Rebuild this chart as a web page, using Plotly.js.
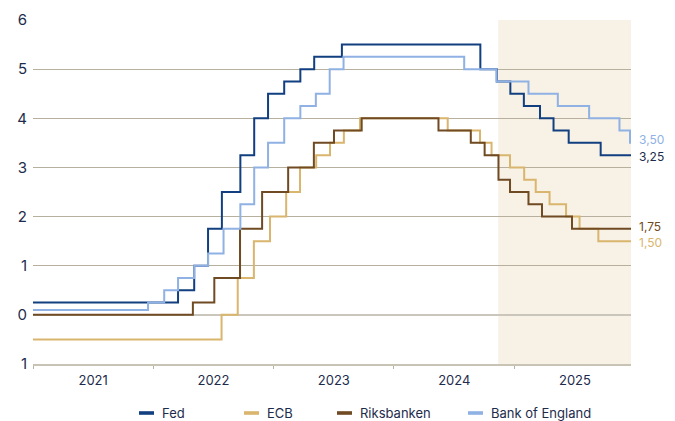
<!DOCTYPE html>
<html>
<head>
<meta charset="utf-8">
<script src="https://cdn.plot.ly/plotly-3.0.1.min.js"></script>
<style>
  html, body { margin: 0; padding: 0; background: #ffffff; }
  #chart { width: 675px; height: 421px; }
</style>
</head>
<body>
<div id="chart"></div>
<script>
// Policy rates, step changes (date of change, new rate in %)
const seriesNames = ['Fed', 'ECB', 'Riksbanken', 'Bank of England'];
const seriesColors = ['#123f80', '#d9b56e', '#6f4a22', '#8fb1e4'];
const labelColors = ['#1d2c4c', '#d9b56e', '#6f4a22', '#8fb1e4'];

const endDate = '2025-12-20';
const forecastStart = '2024-11-12';

const fedDates = ['2021-01-01', '2022-03-17', '2022-05-05', '2022-06-16', '2022-07-28', '2022-09-22',
  '2022-11-03', '2022-12-15', '2023-02-02', '2023-03-23', '2023-05-04', '2023-07-27',
  '2024-09-19', '2024-11-08', '2024-12-19', '2025-01-29', '2025-03-19', '2025-04-29',
  '2025-06-14', '2025-09-19', endDate];
const fedRates = [0.25, 0.50, 1.00, 1.75, 2.50, 3.25, 4.00, 4.50, 4.75, 5.00, 5.25, 5.50,
  5.00, 4.75, 4.50, 4.25, 4.00, 3.75, 3.50, 3.25, 3.25];

const ecbDates = ['2021-01-01', '2022-07-27', '2022-09-14', '2022-11-02', '2022-12-21', '2023-02-08',
  '2023-03-22', '2023-05-10', '2023-06-21', '2023-08-02', '2023-09-20', '2024-06-12',
  '2024-09-18', '2024-10-23', '2024-12-18', '2025-01-30', '2025-03-06', '2025-04-17',
  '2025-06-06', '2025-07-17', '2025-09-12', endDate];
const ecbRates = [-0.50, 0.00, 0.75, 1.50, 2.00, 2.50, 3.00, 3.25, 3.50, 3.75, 4.00, 3.75,
  3.50, 3.25, 3.00, 2.75, 2.50, 2.25, 2.00, 1.75, 1.50, 1.50];

const riksDates = ['2021-01-01', '2022-05-01', '2022-07-05', '2022-09-21', '2022-11-27', '2023-02-14',
  '2023-05-03', '2023-07-03', '2023-09-25', '2024-05-15', '2024-08-21', '2024-10-02',
  '2024-11-13', '2024-12-18', '2025-02-12', '2025-03-25', '2025-06-24', endDate];
const riksRates = [0.00, 0.25, 0.75, 1.75, 2.50, 3.00, 3.50, 3.75, 4.00, 3.75, 3.50, 3.25,
  2.75, 2.50, 2.25, 2.00, 1.75, 1.75];

const boeDates = ['2021-01-01', '2021-12-16', '2022-02-03', '2022-03-17', '2022-05-05', '2022-06-16',
  '2022-08-02', '2022-09-22', '2022-11-03', '2022-12-15', '2023-02-02', '2023-03-23',
  '2023-05-09', '2023-06-20', '2023-08-01', '2024-08-01', '2024-11-07', '2025-02-12',
  '2025-05-12', '2025-08-15', '2025-11-15', '2025-12-17', endDate];
const boeRates = [0.10, 0.25, 0.50, 0.75, 1.00, 1.25, 1.75, 2.25, 3.00, 3.50, 4.00, 4.25,
  4.50, 5.00, 5.25, 5.00, 4.75, 4.50, 4.25, 4.00, 3.75, 3.50, 3.50];

const yTickVals = [-1, 0, 1, 2, 3, 4, 5, 6];
const yTickText = ['1', '0', '1', '2', '3', '4', '5', '6'];

const allDates = [fedDates, ecbDates, riksDates, boeDates];
const allRates = [fedRates, ecbRates, riksRates, boeRates];

const FONT = 'Inter, Roboto, "DejaVu Sans", sans-serif';
const TEXT = '#1d2c4c';

const traces = seriesNames.map((name, i) => ({
  type: 'scatter',
  mode: 'lines',
  name: name,
  x: allDates[i],
  y: allRates[i],
  line: { shape: 'hv', color: seriesColors[i], width: 2 },
  hoverinfo: 'skip',
  showlegend: false
}));

// end-of-line value labels; close pairs are nudged apart so they stay readable
const fmt = v => v.toFixed(2).replace('.', ',');
const endOrder = [3, 0, 2, 1];
const endShift = { 3: 3, 0: -1, 2: 2, 1: -1 };
const annotations = endOrder.map(i => {
  const r = allRates[i];
  return {
    xref: 'x', yref: 'y',
    x: endDate, y: r[r.length - 1],
    text: fmt(r[r.length - 1]),
    showarrow: false,
    xanchor: 'left', yanchor: 'middle',
    xshift: 6, yshift: endShift[i],
    font: { family: FONT, size: 12, color: labelColors[i] }
  };
});

// legend built from short swatches and labels below the axis
const plotLeft = 33, plotWidth = 598, plotTop = 20, plotHeight = 344;
const legendSwatchX = [139, 244, 337, 468];
const legendY = 413;
const px2x = px => (px - plotLeft) / plotWidth;
const px2y = py => (plotTop + plotHeight - py) / plotHeight;

const shapes = [{
  type: 'rect', xref: 'x', yref: 'paper',
  x0: forecastStart, x1: endDate, y0: 0, y1: 1,
  fillcolor: '#f7f2e5', line: { width: 0 }, layer: 'below'
}];

seriesNames.forEach((name, i) => {
  shapes.push({
    type: 'rect', xref: 'paper', yref: 'paper',
    x0: px2x(legendSwatchX[i]), x1: px2x(legendSwatchX[i] + 15),
    y0: px2y(legendY + 1.8), y1: px2y(legendY - 1.8),
    fillcolor: seriesColors[i], line: { width: 0 }
  });
  annotations.push({
    xref: 'paper', yref: 'paper',
    x: px2x(legendSwatchX[i] + 21), y: px2y(legendY),
    text: name, showarrow: false,
    xanchor: 'left', yanchor: 'middle',
    font: { family: FONT, size: 13, color: TEXT }
  });
});

const layout = {
  width: 675, height: 421,
  margin: { l: plotLeft, r: 675 - plotLeft - plotWidth, t: plotTop, b: 421 - plotTop - plotHeight, pad: 0 },
  paper_bgcolor: '#ffffff',
  plot_bgcolor: 'rgba(0,0,0,0)',
  font: { family: FONT, color: TEXT },
  showlegend: false,
  xaxis: {
    type: 'date',
    range: ['2021-01-01', endDate],
    tick0: '2021-01-01',
    dtick: 'M12',
    tickformat: '%Y',
    ticklabelmode: 'period',
    ticks: 'outside',
    ticklen: 3,
    tickwidth: 1,
    tickcolor: '#b9b2a3',
    showgrid: false,
    showline: true,
    linecolor: '#c9c3b5',
    linewidth: 2,
    zeroline: false,
    tickfont: { family: FONT, size: 13, color: TEXT },
    fixedrange: true
  },
  yaxis: {
    range: [-1, 6],
    tickvals: yTickVals,
    ticktext: yTickText,
    showgrid: true,
    gridcolor: '#b8b09f',
    gridwidth: 1,
    zeroline: true,
    zerolinecolor: '#cbc6bb',
    zerolinewidth: 2,
    showline: false,
    ticks: '',
    ticklabelstandoff: 5,
    tickfont: { family: FONT, size: 15, color: TEXT },
    fixedrange: true
  },
  shapes: shapes,
  annotations: annotations
};

Plotly.newPlot('chart', traces, layout, { displayModeBar: false, staticPlot: true });
</script>
</body>
</html>
